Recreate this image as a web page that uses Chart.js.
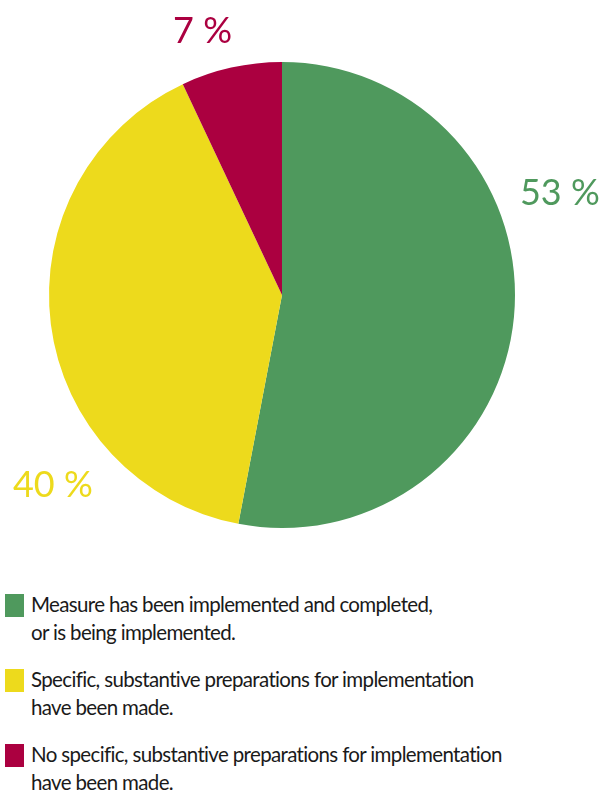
<!DOCTYPE html>
<html>
<head>
<meta charset="utf-8">
<script src="https://cdn.jsdelivr.net/npm/chart.js@4.4.1/dist/chart.umd.min.js"></script>
<style>
  body { margin: 0; background: #fff; width: 612px; height: 790px; position: relative; overflow: hidden; }
  #pie { position: absolute; left: 0; top: 0; }
  #legend { position: absolute; left: 0; top: 590px; font-family: "Lato", sans-serif; font-size: 20.5px; letter-spacing: -0.65px; color: #1a1a1a; }
  .item { position: relative; padding-left: 31px; line-height: 28px; height: 75px; }
  .swatch { position: absolute; left: 5px; top: 4px; width: 19px; height: 23px; }
</style>
</head>
<body>
<canvas id="pie" width="612" height="560"></canvas>
<div id="legend"></div>
<script>
const categories = [
  ["Measure has been implemented and completed,", "or is being implemented."],
  ["Specific, substantive preparations for implementation", "have been made."],
  ["No specific, substantive preparations for implementation", "have been made."]
];
const shares = [53, 40, 7];
const colours = ["#4f995d", "#edda1c", "#ab0040"];

// percentage labels, placed around each slice (angle from 12 o'clock, distance in radii)
const labelPlugin = {
  id: "shareLabels",
  afterDatasetsDraw(chart, args, opts) {
    const { ctx } = chart;
    const arcs = chart.getDatasetMeta(0).data;
    ctx.save();
    ctx.font = opts.font;
    ctx.textAlign = "center";
    ctx.textBaseline = "alphabetic";
    arcs.forEach((arc, i) => {
      const a = opts.angles[i] * Math.PI / 180;
      const r = arc.outerRadius * opts.dist[i];
      ctx.fillStyle = colours[i];
      ctx.fillText(shares[i] + " %", arc.x + r * Math.sin(a), arc.y - r * Math.cos(a));
    });
    ctx.restore();
  }
};

new Chart(document.getElementById("pie"), {
  type: "pie",
  data: {
    labels: categories.map(c => c.join(" ")),
    datasets: [{ data: shares, backgroundColor: colours, borderWidth: 0 }]
  },
  options: {
    responsive: false,
    animation: false,
    layout: { padding: { left: 49, right: 97, top: 62, bottom: 32 } },
    plugins: {
      legend: { display: false },
      tooltip: { enabled: false },
      shareLabels: {
        font: "36px 'Lato', sans-serif",
        angles: [72.1, 228.6, 342.5],
        dist: [1.253, 1.311, 1.134]
      }
    }
  },
  plugins: [labelPlugin]
});

const legend = document.getElementById("legend");
categories.forEach((lines, i) => {
  const item = document.createElement("div");
  item.className = "item";
  const sw = document.createElement("div");
  sw.className = "swatch";
  sw.style.background = colours[i];
  item.appendChild(sw);
  lines.forEach(t => {
    const l = document.createElement("div");
    l.textContent = t;
    item.appendChild(l);
  });
  legend.appendChild(item);
});
</script>
</body>
</html>
